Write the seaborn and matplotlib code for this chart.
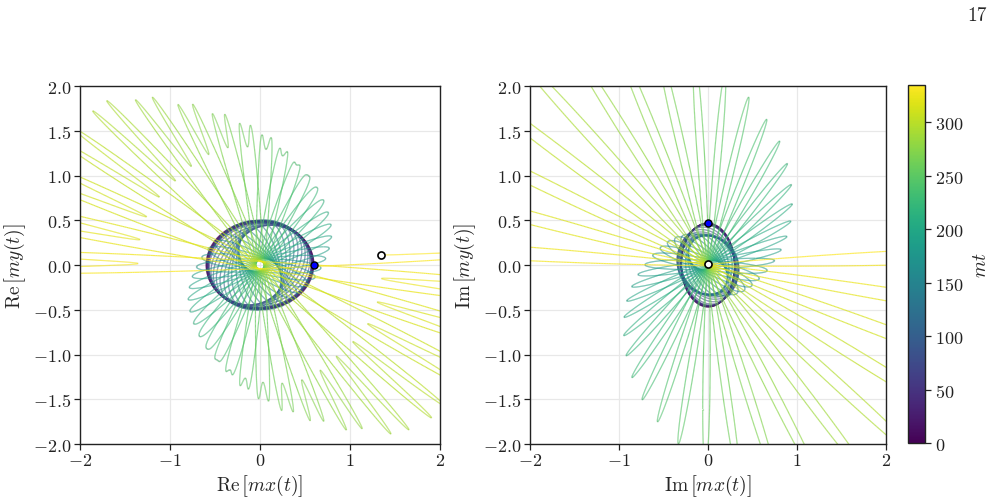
import numpy as np
import matplotlib
matplotlib.use("Agg")
import matplotlib.pyplot as plt
import seaborn as sns
from matplotlib.collections import LineCollection
from matplotlib.ticker import FuncFormatter
from matplotlib.colors import Normalize
from matplotlib.cm import ScalarMappable

# ---------------- data ----------------
T_END = 335.0                 # final time m t (colour bar top)
# oscillation rate (cycles per unit of m t) versus time
freq_t = [0, 230, 300, 335]
freq_v = [0.15, 0.15, 0.11, 0.105]
# orientation of the oscillation (deg) versus time
theta_t   = [0, 60, 180, 335]
theta_deg = [0, 5, 180, 365]
# left panel (Re): half-length, width and tip-dip depth of each swing
aL_t = [0, 60, 120, 160, 190, 220, 250, 270, 290, 310, 335]
aL_v = [0.6, 0.57, 0.5, 0.55, 0.78, 1.1, 1.6, 1.95, 2.4, 2.6, 2.7]
bL_t = [0, 60, 110, 150, 180, 220, 335]
bL_v = [0.5, 0.47, 0.3, 0.13, 0.07, 0.05, 0.04]
cL_t = [0, 200, 230, 250, 270, 290, 335]
cL_v = [0.0, 0.0, 0.1, 0.2, 0.3, 0.45, 0.5]
# right panel (Im)
aR_t = [0, 80, 130, 170, 200, 230, 260, 300, 335]
aR_v = [0.3, 0.3, 0.35, 0.6, 1.0, 1.6, 2.4, 3.5, 4.5]
bR_t = [0, 60, 110, 150, 180, 210, 250, 335]
bR_v = [0.47, 0.45, 0.33, 0.12, 0.05, 0.025, 0.012, 0.008]

x_ticks = [-2, -1, 0, 1, 2]
y_ticks = [-2.0, -1.5, -1.0, -0.5, 0.0, 0.5, 1.0, 1.5, 2.0]
cb_ticks = [0, 50, 100, 150, 200, 250, 300]
xlabels = [r"$\mathrm{Re}\,\left[mx(t)\right]$", r"$\mathrm{Im}\,\left[mx(t)\right]$"]
ylabels = [r"$\mathrm{Re}\,\left[my(t)\right]$", r"$\mathrm{Im}\,\left[my(t)\right]$"]
page_number = "17"

# ---------------- trajectory ----------------
t = np.linspace(0.0, T_END, 50001)
f = np.interp(t, freq_t, freq_v)
cycles = np.concatenate([[0.0], np.cumsum(0.5 * (f[1:] + f[:-1]) * np.diff(t))])
cycles *= np.round(cycles[-1]) / cycles[-1]      # whole number of swings
psi0 = 2 * np.pi * cycles
theta = np.deg2rad(np.interp(t, theta_t, theta_deg))


def logi(tk, vk):
    return np.exp(np.interp(t, tk, np.log(vk)))


def orbit(a, b, c, phase):
    psi = psi0 + phase
    u = a * (np.cos(psi) - c * np.cos(3 * psi))
    v = b * np.sin(psi)
    return u * np.cos(theta) - v * np.sin(theta), u * np.sin(theta) + v * np.cos(theta)


xL, yL = orbit(logi(aL_t, aL_v), logi(bL_t, bL_v), np.interp(t, cL_t, cL_v), 0.0)
xR, yR = orbit(logi(aR_t, aR_v), logi(bR_t, bR_v), 0.0, np.pi / 2)

# ---------------- style ----------------
sns.set_theme(style="whitegrid")
plt.rcParams.update({
    "font.family": "serif",
    "font.serif": ["cmr10"],
    "mathtext.fontset": "cm",
    "axes.edgecolor": "#222222",
    "axes.linewidth": 1.0,
    "grid.color": "#e8e8e8",
    "grid.linewidth": 0.9,
    "xtick.bottom": True,
    "ytick.left": True,
    "xtick.direction": "out",
    "ytick.direction": "out",
    "xtick.major.size": 4,
    "ytick.major.size": 4,
    "xtick.major.width": 0.9,
    "ytick.major.width": 0.9,
    "xtick.color": "#222222",
    "ytick.color": "#222222",
})

fig = plt.figure(figsize=(10.02, 5.02), dpi=100)
axL = fig.add_axes([0.0798, 0.1135, 0.3593, 0.7131])
axR = fig.add_axes([0.5289, 0.1135, 0.3553, 0.7131])
cax = fig.add_axes([0.9062, 0.1155, 0.0170, 0.7131])

norm = Normalize(0, T_END)
cmap = plt.get_cmap("viridis")
fmt_y = FuncFormatter(lambda v, p: r"$%.1f$" % v)
fmt_x = FuncFormatter(lambda v, p: r"$%d$" % round(v))

for ax, x, y, xl, yl in [(axL, xL, yL, xlabels[0], ylabels[0]),
                         (axR, xR, yR, xlabels[1], ylabels[1])]:
    pts = np.column_stack([x, y]).reshape(-1, 1, 2)
    segs = np.concatenate([pts[:-1], pts[1:]], axis=1)
    lc = LineCollection(segs, cmap=cmap, norm=norm, linewidths=0.85, alpha=0.75)
    lc.set_array(0.5 * (t[:-1] + t[1:]))
    ax.add_collection(lc)
    sns.scatterplot(x=[x[0]], y=[y[0]], ax=ax, color="blue", edgecolor="black",
                    linewidth=1.0, s=26, zorder=5)
    sns.scatterplot(x=[x[-1]], y=[y[-1]], ax=ax, color="white", edgecolor="black",
                    linewidth=1.2, s=26, zorder=5)
    ax.set_xlim(-2, 2)
    ax.set_ylim(-2, 2)
    ax.set_xticks(x_ticks)
    ax.set_yticks(y_ticks)
    ax.xaxis.set_major_formatter(fmt_x)
    ax.yaxis.set_major_formatter(fmt_y)
    ax.tick_params(labelsize=13, pad=2)
    ax.set_xlabel(xl, fontsize=14, labelpad=3)
    ax.set_ylabel(yl, fontsize=14, labelpad=4)
    ax.grid(True)
    for s in ax.spines.values():
        s.set_visible(True)

cb = fig.colorbar(ScalarMappable(norm=norm, cmap=cmap), cax=cax)
cb.set_ticks(cb_ticks)
cb.ax.yaxis.set_major_formatter(FuncFormatter(lambda v, p: r"$%d$" % round(v)))
cb.ax.tick_params(labelsize=13, length=4, right=True, left=False)
cb.outline.set_edgecolor("#222222")
cb.outline.set_linewidth(1.0)
cax.grid(False)
cb.set_label(r"$mt$", fontsize=14, labelpad=6)

fig.text(0.985, 0.985, page_number, ha="right", va="top", fontsize=14)

fig.savefig("out.png", dpi=100)
